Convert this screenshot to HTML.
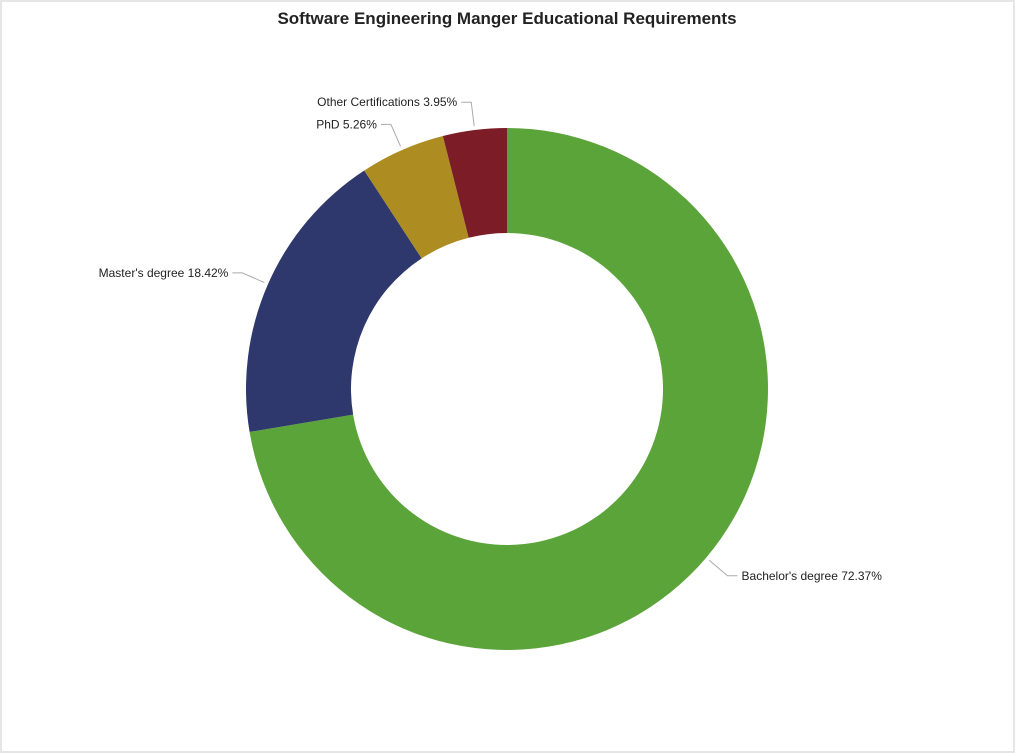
<!DOCTYPE html>
<html><head><meta charset="utf-8"><style>
body{margin:0;background:#fff}
#frame{position:absolute;left:0;top:0;width:1011px;height:749px;border:2px solid #e6e6e6;background:#fff}
text{font-family:"Liberation Sans","DejaVu Sans",sans-serif}
</style></head><body>
<div id="frame"></div>
<svg id="chart" width="1015" height="753" style="position:absolute;left:0;top:0">
<text x="507" y="24" text-anchor="middle" font-size="17" font-weight="bold" fill="#222">Software Engineering Manger Educational Requirements</text>
</svg>
<script>
const categories=["Bachelor's degree","Master's degree","PhD","Other Certifications"];
const values=[72.37,18.42,5.26,3.95];
const colors=["#5ba43a","#2e386c","#ad8d22","#7b1c26"];
const cx=507,cy=389,R=261,r=156;
const svg=document.getElementById('chart');
const NS='http://www.w3.org/2000/svg';
const total=values.reduce((a,b)=>a+b,0);
function pt(a,rad){return [cx+rad*Math.sin(a),cy-rad*Math.cos(a)];}
let acc=0;
values.forEach((v,i)=>{
  const a0=acc/total*2*Math.PI;acc+=v;const a1=acc/total*2*Math.PI;
  const large=(a1-a0)>Math.PI?1:0;
  const p0=pt(a0,R),p1=pt(a1,R),q1=pt(a1,r),q0=pt(a0,r);
  const p=document.createElementNS(NS,'path');
  p.setAttribute('d',`M${p0} A${R},${R} 0 ${large} 1 ${p1} L${q1} A${r},${r} 0 ${large} 0 ${q0} Z`);
  p.setAttribute('fill',colors[i]);
  
  
  svg.appendChild(p);
  const am=(a0+a1)/2;
  const s=pt(am,R+4),e=pt(am,R+28);
  const right=Math.sin(am)>=0;
  const hx=e[0]+(right?10:-10);
  const l=document.createElementNS(NS,'polyline');
  l.setAttribute('points',`${s} ${e} ${hx},${e[1]}`);
  l.setAttribute('fill','none');l.setAttribute('stroke','#aaa');l.setAttribute('stroke-width','1');
  
  
  svg.appendChild(l);
  const t=document.createElementNS(NS,'text');
  t.setAttribute('x',hx+(right?4:-4));t.setAttribute('y',e[1]+4);
  t.setAttribute('text-anchor',right?'start':'end');
  t.setAttribute('font-size','12');t.setAttribute('fill','#222');
  t.textContent=categories[i]+' '+v.toFixed(2)+'%';
  
  
  svg.appendChild(t);
});
</script>
</body></html>
